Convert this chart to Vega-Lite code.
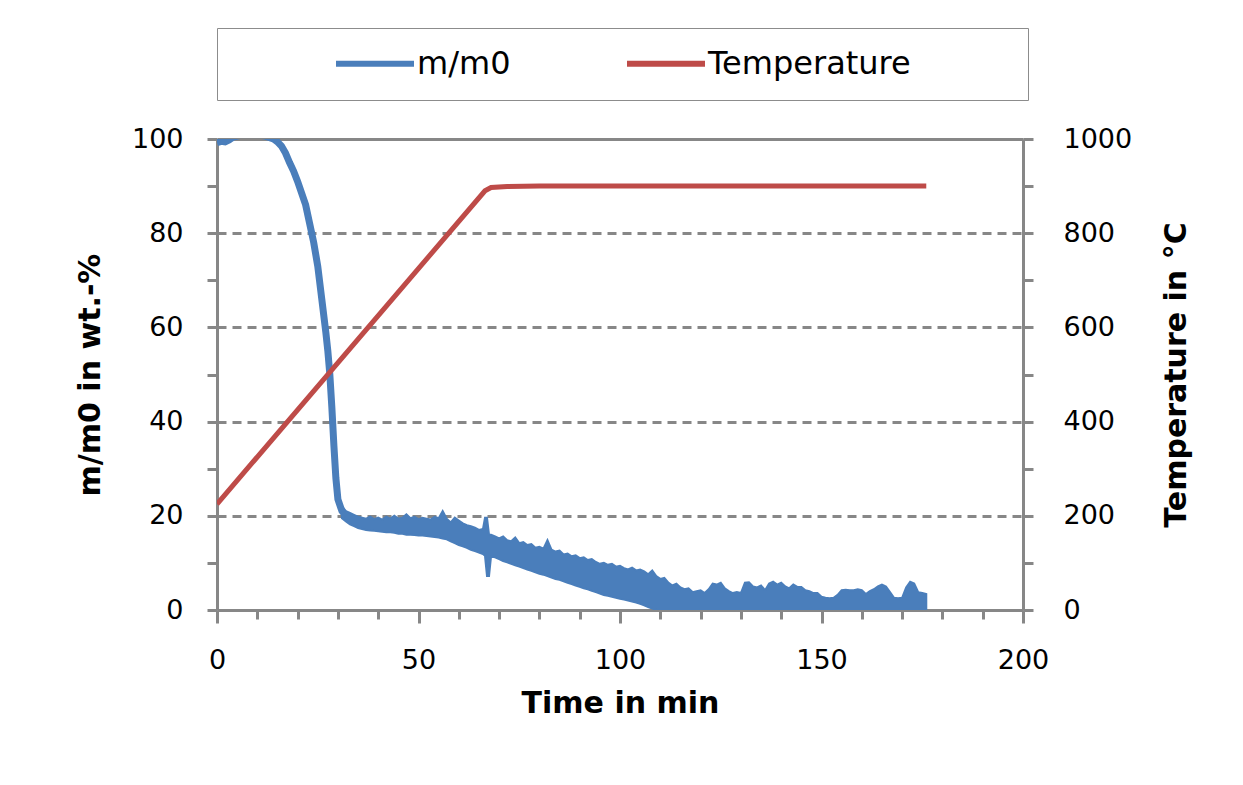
{
  "$schema": "https://vega.github.io/schema/vega-lite/v6.json",
  "width": 806,
  "height": 471,
  "autosize": {"type": "none"},
  "padding": {"left": 217, "top": 139, "right": 220, "bottom": 175},
  "background": "white",
  "config": {
    "font": "DejaVu Sans",
    "view": {"stroke": null},
    "axis": {
      "domainColor": "#878787",
      "domainWidth": 3,
      "tickColor": "#878787",
      "tickWidth": 3,
      "labelFont": "DejaVu Sans",
      "labelFontSize": 27,
      "labelColor": "#000000",
      "labelFlush": false,
      "titleFont": "DejaVu Sans",
      "titleFontSize": 30,
      "titleFontWeight": "bold",
      "titleColor": "#000000",
      "gridColor": "#878787",
      "gridWidth": 3
    }
  },
  "datasets": {
    "mass": [
      {"t": 0, "m": 99.2}, {"t": 1, "m": 99.5}, {"t": 2, "m": 99.4}, {"t": 3, "m": 99.8}, {"t": 4, "m": 100.4},
      {"t": 6, "m": 100.8}, {"t": 8, "m": 101.0}, {"t": 10, "m": 100.9}, {"t": 12, "m": 100.6}, {"t": 14, "m": 100.0},
      {"t": 15, "m": 99.4}, {"t": 16, "m": 98.5}, {"t": 17, "m": 97.0}, {"t": 18, "m": 95.0}, {"t": 19, "m": 93.2},
      {"t": 20, "m": 91.0}, {"t": 21, "m": 88.5}, {"t": 22, "m": 86.0}, {"t": 23, "m": 82.0}, {"t": 24, "m": 78.0},
      {"t": 25, "m": 73.0}, {"t": 26, "m": 66.0}, {"t": 27, "m": 59.0}, {"t": 27.5, "m": 55.0}, {"t": 28, "m": 50.0},
      {"t": 28.5, "m": 43.0}, {"t": 29, "m": 35.0}, {"t": 29.5, "m": 28.0}, {"t": 30, "m": 23.5}, {"t": 31, "m": 21.0},
      {"t": 32, "m": 20.0}
    ],
    "band": [
      {"t": 31, "lo": 19.5, "hi": 22.0}, {"t": 32, "lo": 18.8, "hi": 21.0}, {"t": 33, "lo": 18.2, "hi": 20.6},
      {"t": 34, "lo": 17.8, "hi": 20.2}, {"t": 35, "lo": 17.4, "hi": 19.8}, {"t": 36, "lo": 17.2, "hi": 19.6},
      {"t": 37, "lo": 17.0, "hi": 19.4}, {"t": 38, "lo": 16.9, "hi": 19.8}, {"t": 39, "lo": 16.8, "hi": 19.3},
      {"t": 40, "lo": 16.7, "hi": 19.6}, {"t": 41, "lo": 16.6, "hi": 19.2}, {"t": 42, "lo": 16.5, "hi": 19.8},
      {"t": 43, "lo": 16.5, "hi": 19.4}, {"t": 44, "lo": 16.4, "hi": 20.0}, {"t": 45, "lo": 16.2, "hi": 19.4},
      {"t": 46, "lo": 16.2, "hi": 19.6}, {"t": 47, "lo": 16.0, "hi": 20.3}, {"t": 48, "lo": 16.0, "hi": 19.5},
      {"t": 49, "lo": 15.9, "hi": 19.8}, {"t": 50, "lo": 15.8, "hi": 19.3}, {"t": 51, "lo": 15.8, "hi": 19.6},
      {"t": 52, "lo": 15.7, "hi": 19.4}, {"t": 53, "lo": 15.6, "hi": 19.2}, {"t": 54, "lo": 15.5, "hi": 19.8},
      {"t": 55, "lo": 15.4, "hi": 19.5}, {"t": 56, "lo": 15.2, "hi": 21.0}, {"t": 57, "lo": 15.0, "hi": 19.4},
      {"t": 58, "lo": 14.6, "hi": 18.6}, {"t": 59, "lo": 14.2, "hi": 19.6}, {"t": 60, "lo": 13.8, "hi": 19.0},
      {"t": 61, "lo": 13.5, "hi": 18.4}, {"t": 62, "lo": 13.2, "hi": 18.0}, {"t": 63, "lo": 12.8, "hi": 17.8},
      {"t": 64, "lo": 12.5, "hi": 17.5}, {"t": 65, "lo": 12.2, "hi": 17.0}, {"t": 66, "lo": 11.9, "hi": 17.2},
      {"t": 66.5, "lo": 11.5, "hi": 19.6}, {"t": 67, "lo": 7.2, "hi": 19.6}, {"t": 67.5, "lo": 7.2, "hi": 16.0},
      {"t": 68, "lo": 11.4, "hi": 16.0}, {"t": 69, "lo": 11.2, "hi": 15.6}, {"t": 70, "lo": 10.8, "hi": 15.2},
      {"t": 71, "lo": 10.4, "hi": 15.6}, {"t": 72, "lo": 10.1, "hi": 14.8}, {"t": 73, "lo": 9.8, "hi": 14.6},
      {"t": 74, "lo": 9.5, "hi": 15.4}, {"t": 75, "lo": 9.2, "hi": 14.2}, {"t": 76, "lo": 8.9, "hi": 14.4},
      {"t": 77, "lo": 8.6, "hi": 13.8}, {"t": 78, "lo": 8.3, "hi": 14.0}, {"t": 79, "lo": 8.0, "hi": 13.2},
      {"t": 80, "lo": 7.7, "hi": 13.4}, {"t": 81, "lo": 7.5, "hi": 13.0}, {"t": 82, "lo": 7.2, "hi": 14.8},
      {"t": 83, "lo": 6.9, "hi": 12.8}, {"t": 84, "lo": 6.6, "hi": 12.4}, {"t": 85, "lo": 6.4, "hi": 12.6},
      {"t": 86, "lo": 6.1, "hi": 11.8}, {"t": 87, "lo": 5.8, "hi": 12.0}, {"t": 88, "lo": 5.5, "hi": 11.4},
      {"t": 89, "lo": 5.2, "hi": 11.6}, {"t": 90, "lo": 4.9, "hi": 11.0}, {"t": 91, "lo": 4.6, "hi": 11.2},
      {"t": 92, "lo": 4.4, "hi": 10.6}, {"t": 93, "lo": 4.1, "hi": 10.8}, {"t": 94, "lo": 3.8, "hi": 10.2},
      {"t": 95, "lo": 3.5, "hi": 9.8}, {"t": 96, "lo": 3.2, "hi": 10.0}, {"t": 97, "lo": 3.0, "hi": 9.6},
      {"t": 98, "lo": 2.8, "hi": 9.8}, {"t": 99, "lo": 2.6, "hi": 9.2}, {"t": 100, "lo": 2.4, "hi": 9.4},
      {"t": 101, "lo": 2.2, "hi": 8.9}, {"t": 102, "lo": 2.0, "hi": 8.6}, {"t": 103, "lo": 1.8, "hi": 9.0},
      {"t": 104, "lo": 1.6, "hi": 8.4}, {"t": 105, "lo": 1.3, "hi": 8.6}, {"t": 106, "lo": 1.0, "hi": 8.2},
      {"t": 107, "lo": 0.6, "hi": 7.6}, {"t": 108, "lo": 0.3, "hi": 8.4}, {"t": 109, "lo": 0.0, "hi": 7.2},
      {"t": 110, "lo": 0.0, "hi": 6.6}, {"t": 111, "lo": 0.0, "hi": 6.8}, {"t": 112, "lo": 0.0, "hi": 5.8},
      {"t": 113, "lo": 0.0, "hi": 5.2}, {"t": 114, "lo": 0.0, "hi": 5.6}, {"t": 115, "lo": 0.0, "hi": 4.8},
      {"t": 116, "lo": 0.0, "hi": 4.4}, {"t": 117, "lo": 0.0, "hi": 4.6}, {"t": 118, "lo": 0.0, "hi": 3.8},
      {"t": 119, "lo": 0.0, "hi": 4.0}, {"t": 120, "lo": 0.0, "hi": 4.2}, {"t": 121, "lo": 0.0, "hi": 3.6},
      {"t": 122, "lo": 0.0, "hi": 4.4}, {"t": 123, "lo": 0.0, "hi": 5.6}, {"t": 124, "lo": 0.0, "hi": 5.4},
      {"t": 125, "lo": 0.0, "hi": 5.8}, {"t": 126, "lo": 0.0, "hi": 4.6}, {"t": 127, "lo": 0.0, "hi": 4.0},
      {"t": 128, "lo": 0.0, "hi": 3.6}, {"t": 129, "lo": 0.0, "hi": 3.8}, {"t": 130, "lo": 0.0, "hi": 3.6},
      {"t": 131, "lo": 0.0, "hi": 5.8}, {"t": 132, "lo": 0.0, "hi": 5.9}, {"t": 133, "lo": 0.0, "hi": 5.0},
      {"t": 134, "lo": 0.0, "hi": 4.8}, {"t": 135, "lo": 0.0, "hi": 5.2}, {"t": 136, "lo": 0.0, "hi": 4.2},
      {"t": 137, "lo": 0.0, "hi": 5.6}, {"t": 138, "lo": 0.0, "hi": 6.0}, {"t": 139, "lo": 0.0, "hi": 5.4},
      {"t": 140, "lo": 0.0, "hi": 5.8}, {"t": 141, "lo": 0.0, "hi": 5.0}, {"t": 142, "lo": 0.0, "hi": 4.6},
      {"t": 143, "lo": 0.0, "hi": 5.4}, {"t": 144, "lo": 0.0, "hi": 4.9}, {"t": 145, "lo": 0.0, "hi": 4.9},
      {"t": 146, "lo": 0.0, "hi": 4.2}, {"t": 147, "lo": 0.0, "hi": 4.0}, {"t": 148, "lo": 0.0, "hi": 3.6},
      {"t": 149, "lo": 0.0, "hi": 3.6}, {"t": 150, "lo": 0.0, "hi": 2.8}, {"t": 151, "lo": 0.0, "hi": 2.6},
      {"t": 152, "lo": 0.0, "hi": 2.5}, {"t": 153, "lo": 0.0, "hi": 2.6}, {"t": 154, "lo": 0.0, "hi": 3.2},
      {"t": 155, "lo": 0.0, "hi": 4.2}, {"t": 156, "lo": 0.0, "hi": 4.3}, {"t": 157, "lo": 0.0, "hi": 4.2},
      {"t": 158, "lo": 0.0, "hi": 4.2}, {"t": 159, "lo": 0.0, "hi": 4.4}, {"t": 160, "lo": 0.0, "hi": 4.2},
      {"t": 161, "lo": 0.0, "hi": 3.4}, {"t": 162, "lo": 0.0, "hi": 4.0}, {"t": 163, "lo": 0.0, "hi": 4.4},
      {"t": 164, "lo": 0.0, "hi": 5.0}, {"t": 165, "lo": 0.0, "hi": 5.4}, {"t": 166, "lo": 0.0, "hi": 5.0},
      {"t": 167, "lo": 0.0, "hi": 3.8}, {"t": 168, "lo": 0.0, "hi": 2.6}, {"t": 169, "lo": 0.0, "hi": 2.5},
      {"t": 170, "lo": 0.0, "hi": 2.6}, {"t": 171, "lo": 0.0, "hi": 4.8}, {"t": 172, "lo": 0.0, "hi": 6.0},
      {"t": 173, "lo": 0.0, "hi": 5.6}, {"t": 174, "lo": 0.0, "hi": 3.8}, {"t": 175, "lo": 0.0, "hi": 3.6},
      {"t": 176, "lo": 0.0, "hi": 3.4}
    ],
    "temp": [
      {"t": 0, "T": 225}, {"t": 66.5, "T": 890}, {"t": 68, "T": 897}, {"t": 72, "T": 899}, {"t": 80, "T": 900}, {"t": 176, "T": 900}
    ]
  },
  "layer": [
    {
      "layer": [
        {
          "data": {"name": "band"},
          "mark": {"type": "area", "clip": true, "stroke": "#4a7ebb", "strokeWidth": 2, "strokeJoin": "miter"},
          "encoding": {
            "x": {
              "field": "t", "type": "quantitative",
              "scale": {"domain": [0, 200]},
              "axis": {
                "title": "Time in min",
                "values": [0, 10, 20, 30, 40, 50, 60, 70, 80, 90, 100, 110, 120, 130, 140, 150, 160, 170, 180, 190, 200],
                "labelExpr": "datum.value % 50 === 0 ? datum.label : ''",
                "tickSize": {"condition": {"test": "datum.value % 50 === 0", "value": 13}, "value": 9},
                "labelPadding": 24,
                "titlePadding": 15,
                "grid": false
              }
            },
            "y": {
              "field": "lo", "type": "quantitative",
              "scale": {"domain": [0, 100]},
              "axis": {
                "title": "m/m0 in wt.-%",
                "values": [0, 10, 20, 30, 40, 50, 60, 70, 80, 90, 100],
                "labelExpr": "datum.value % 20 === 0 ? datum.label : ''",
                "tickSize": 10,
                "labelPadding": 24,
                "titlePadding": 26,
                "grid": true,
                "gridDash": {"condition": {"test": "datum.value === 100", "value": []}, "value": [9, 6]},
                "gridOpacity": {"condition": {"test": "datum.value % 20 === 0 && datum.value > 0", "value": 1}, "value": 0}
              }
            },
            "y2": {"field": "hi"},
            "color": {
              "datum": "m/m0",
              "type": "nominal",
              "scale": {"domain": ["m/m0", "Temperature"], "range": ["#4a7ebb", "#be4b48"]},
              "legend": {
                "title": " ",
                "titleOrient": "right",
                "titleFontSize": 2,
                "titlePadding": 97,
                "orient": "none",
                "legendX": 0,
                "legendY": -111,
                "direction": "horizontal",
                "padding": 20,
                "clipHeight": 31,
                "strokeColor": "#8c8c8c",
                "fillColor": "white",
                "symbolType": "stroke",
                "symbolSize": 6084,
                "symbolStrokeWidth": 6,
                "symbolOffset": 96,
                "labelOffset": 0,
                "labelLimit": 400,
                "columnPadding": 17,
                "labelFont": "DejaVu Sans",
                "labelFontSize": 32,
                "labelColor": "#000000"
              }
            }
          }
        },
        {
          "data": {"name": "mass"},
          "mark": {"type": "line", "strokeWidth": 7, "clip": true},
          "encoding": {
            "x": {"field": "t", "type": "quantitative"},
            "y": {"field": "m", "type": "quantitative"},
            "color": {"datum": "m/m0", "type": "nominal"}
          }
        }
      ]
    },
    {
      "data": {"name": "temp"},
      "mark": {"type": "line", "strokeWidth": 5, "clip": true},
      "encoding": {
        "x": {"field": "t", "type": "quantitative"},
        "y": {
          "field": "T", "type": "quantitative",
          "scale": {"domain": [0, 1000]},
          "axis": {
            "orient": "right",
            "title": "Temperature in °C",
            "titleAngle": 270,
            "format": "d",
            "values": [0, 100, 200, 300, 400, 500, 600, 700, 800, 900, 1000],
            "labelExpr": "datum.value % 200 === 0 ? datum.label : ''",
            "tickSize": 10,
            "labelPadding": 30,
            "titlePadding": 60,
            "grid": false
          }
        },
        "color": {"datum": "Temperature", "type": "nominal"}
      }
    }
  ],
  "resolve": {"scale": {"y": "independent"}}
}
